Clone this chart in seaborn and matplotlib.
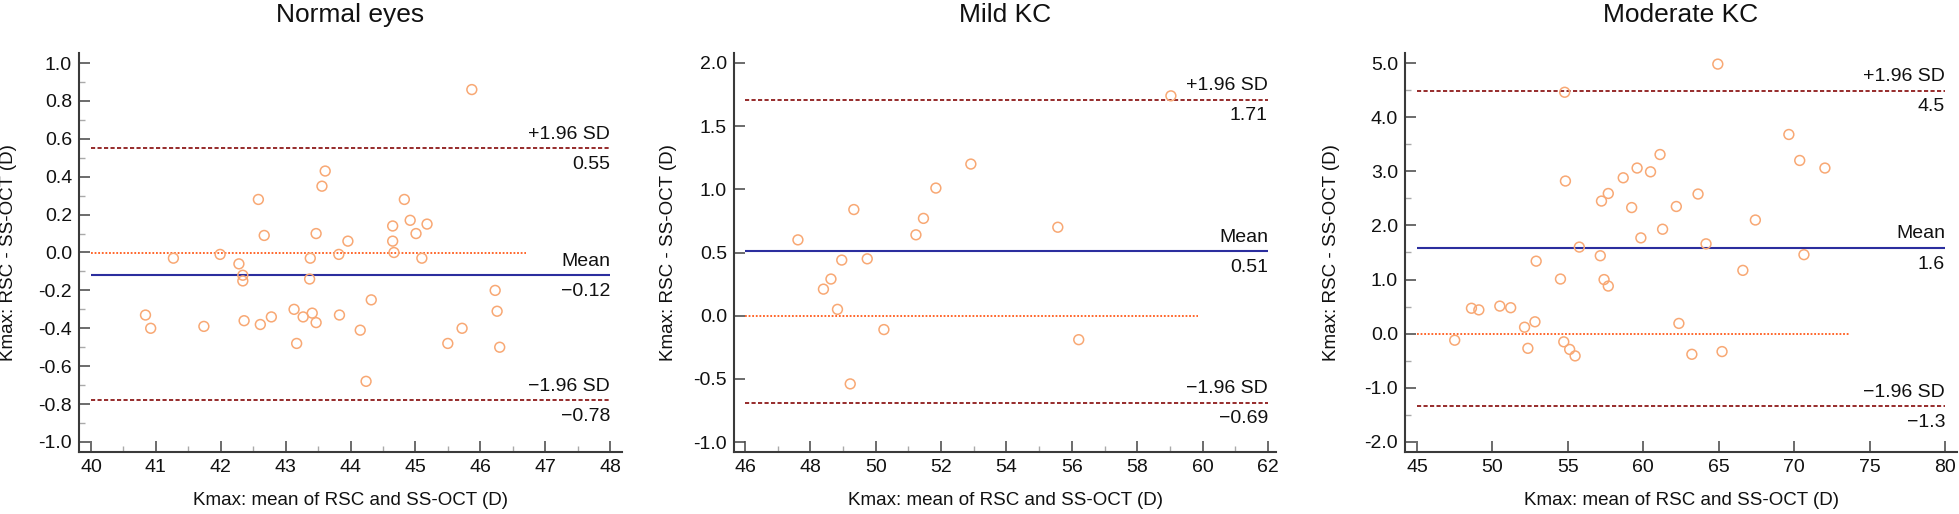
import numpy as np
import pandas as pd
import matplotlib
matplotlib.use("Agg")
import matplotlib.pyplot as plt
from matplotlib.ticker import MultipleLocator, FormatStrFormatter
import seaborn as sns

# Bland-Altman data: x = mean of the two devices, y = difference
normal_mean = [40.84, 40.92, 41.27, 41.74, 41.99, 42.28, 42.34, 42.34, 42.36, 42.58,
               42.61, 42.67, 42.78, 43.13, 43.17, 43.27, 43.37, 43.38, 43.41, 43.47,
               43.47, 43.56, 43.61, 43.82, 43.83, 43.96, 44.15, 44.24, 44.32, 44.65,
               44.65, 44.67, 44.83, 44.92, 45.01, 45.10, 45.18, 45.50, 45.72, 45.87,
               46.23, 46.26, 46.30]
normal_diff = [-0.33, -0.40, -0.03, -0.39, -0.01, -0.06, -0.12, -0.15, -0.36, 0.28,
               -0.38, 0.09, -0.34, -0.30, -0.48, -0.34, -0.14, -0.03, -0.32, 0.10,
               -0.37, 0.35, 0.43, -0.01, -0.33, 0.06, -0.41, -0.68, -0.25, 0.06,
               0.14, 0.00, 0.28, 0.17, 0.10, -0.03, 0.15, -0.48, -0.40, 0.86,
               -0.20, -0.31, -0.50]

mild_mean = [47.62, 48.40, 48.63, 48.83, 48.96, 49.22, 49.33, 49.74, 50.25, 51.23,
             51.46, 51.84, 52.91, 55.57, 56.21, 59.03]
mild_diff = [0.60, 0.21, 0.29, 0.05, 0.44, -0.54, 0.84, 0.45, -0.11, 0.64,
             0.77, 1.01, 1.20, 0.70, -0.19, 1.74]

moderate_mean = [47.50, 48.61, 49.10, 50.49, 51.21, 52.13, 52.35, 52.82, 52.90, 54.51,
                 54.73, 54.79, 54.84, 55.12, 55.48, 55.76, 57.15, 57.23, 57.40, 57.68,
                 57.68, 58.67, 59.23, 59.59, 59.84, 60.48, 61.11, 61.28, 62.19, 62.36,
                 63.22, 63.63, 64.16, 64.94, 65.22, 66.60, 67.43, 69.65, 70.37, 70.65,
                 72.04]
moderate_diff = [-0.12, 0.47, 0.44, 0.51, 0.48, 0.12, -0.27, 0.22, 1.34, 1.01,
                 -0.15, 4.46, 2.82, -0.29, -0.41, 1.60, 1.44, 2.45, 1.00, 2.59,
                 0.88, 2.88, 2.33, 3.06, 1.77, 2.99, 3.31, 1.93, 2.35, 0.19,
                 -0.38, 2.58, 1.66, 4.98, -0.33, 1.17, 2.10, 3.68, 3.20, 1.46,
                 3.06]

titles = ["Normal eyes", "Mild KC", "Moderate KC"]
bias = [-0.12, 0.51, 1.58]
upper_loa = [0.55, 1.71, 4.49]
lower_loa = [-0.78, -0.69, -1.34]
bias_lbl = ["\u22120.12", "0.51", "1.6"]
upper_lbl = ["0.55", "1.71", "4.5"]
lower_lbl = ["\u22120.78", "\u22120.69", "\u22121.3"]
x_range = [(40, 48), (46, 62), (45, 80)]
zero_end = [46.7, 59.85, 73.7]

sns.set_theme(style="ticks")
plt.rcParams["font.family"] = ["Liberation Sans", "DejaVu Sans"]
plt.rcParams["axes.unicode_minus"] = True

W, H = 1959, 514
fig = plt.figure(figsize=(W / 100, H / 100), dpi=100)

# axes boxes in pixels: left, right (top 53, bottom 452)
boxes = [(79, 622), (734, 1276), (1405, 1957)]
xlims = [(39.815, 48.185), (45.664, 62.245), (44.205, 80.795)]
ylims = [(-1.053, 1.053), (-1.079, 2.079), (-2.185, 5.185)]
xmaj = [1, 2, 5]
xmin_ = [0.5, 1, None]
ymaj = [0.2, 0.5, 1.0]
ymin_ = [0.1, None, 0.5]
ylab_x = [17, 677, 1340]

datasets = [(normal_mean, normal_diff), (mild_mean, mild_diff), (moderate_mean, moderate_diff)]

pt_col = "#F8A874"
sd_col = "#8E1A1A"
mean_col = "#2B2E9E"
zero_col = "#FF5A1A"
txt = 14

for i, (mx, dy) in enumerate(datasets):
    l, r = boxes[i]
    ax = fig.add_axes([l / W, (H - 452) / H, (r - l) / W, (452 - 53) / H])
    df = pd.DataFrame({"mean": mx, "diff": dy})
    sns.scatterplot(data=df, x="mean", y="diff", ax=ax, marker="o", s=50,
                    facecolor="none", edgecolor=pt_col, linewidth=1.1, zorder=3)

    x0, x1 = x_range[i]
    ax.hlines(0, x0, zero_end[i], colors=zero_col, linestyles=(0, (1, 1)), linewidth=1.3, zorder=2)
    ax.hlines(bias[i], x0, x1, colors=mean_col, linewidth=1.5, zorder=2)
    for v in (upper_loa[i], lower_loa[i]):
        ax.hlines(v, x0, x1, colors=sd_col, linestyles=(0, (2.3, 1.3)), linewidth=1.3, zorder=2)

    for v, top, bot in [(upper_loa[i], "+1.96 SD", upper_lbl[i]),
                        (bias[i], "Mean", bias_lbl[i]),
                        (lower_loa[i], "\u22121.96 SD", lower_lbl[i])]:
        ax.annotate(top, xy=(x1, v), xytext=(0, 7), textcoords="offset points",
                    ha="right", va="baseline", fontsize=txt, color="#111111")
        ax.annotate(bot, xy=(x1, v), xytext=(0, -5.5), textcoords="offset points",
                    ha="right", va="top", fontsize=txt, color="#111111")

    ax.set_xlim(*xlims[i])
    ax.set_ylim(*ylims[i])
    ax.xaxis.set_major_locator(MultipleLocator(xmaj[i]))
    ax.yaxis.set_major_locator(MultipleLocator(ymaj[i]))
    if xmin_[i]:
        ax.xaxis.set_minor_locator(MultipleLocator(xmin_[i]))
    if ymin_[i]:
        ax.yaxis.set_minor_locator(MultipleLocator(ymin_[i]))
    ax.xaxis.set_major_formatter(FormatStrFormatter("%d"))
    ax.yaxis.set_major_formatter(FormatStrFormatter("%.1f"))

    sns.despine(ax=ax)
    for s in ("left", "bottom"):
        ax.spines[s].set_linewidth(1.5)
        ax.spines[s].set_color("#3a3a3a")
    ax.tick_params(which="major", direction="in", length=8, width=1.1, color="#444444",
                   labelsize=txt, pad=5, labelcolor="#111111")
    ax.tick_params(which="minor", direction="in", length=4, width=1.0, color="#aaaaaa")

    ax.set_title(titles[i], fontsize=19, pad=22, color="#111111")
    ax.set_xlabel("Kmax: mean of RSC and SS-OCT (D)", fontsize=13.5, color="#111111")
    ax.set_ylabel("Kmax: RSC - SS-OCT (D)", fontsize=13.5, color="#111111")
    ax.xaxis.set_label_coords(0.5, (452 - 492) / 399)
    ax.yaxis.set_label_coords((ylab_x[i] - l) / (r - l), 0.5)
    ax.set_facecolor("white")

fig.savefig("out.png", dpi=100, facecolor="white")
